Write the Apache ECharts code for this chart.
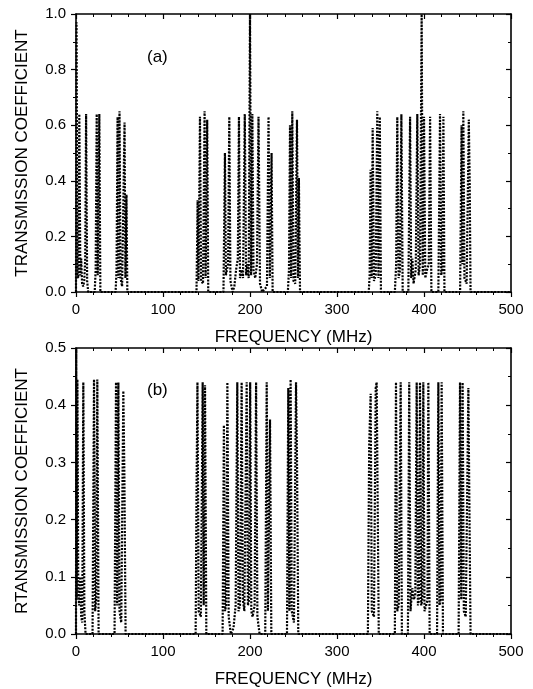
<!DOCTYPE html>
<html>
<head>
<meta charset="utf-8">
<script src="https://cdn.jsdelivr.net/npm/echarts@6/dist/echarts.min.js"></script>
<style>
html,body{margin:0;padding:0;background:#fff}
#main{width:533px;height:689px}
</style>
</head>
<body>
<div id="main"></div>
<script>
// panel (a): transmission coefficient
var freqA=[0,0.6,1.6,2.6,3.8,5,6,7,8.2,9.5,10.6,11.6,12.8,14,
	21.5,22.6,23.8,25,26.8,28,
	45.5,46.6,47.8,48.8,50,51.2,53,55.8,56.8,58,59,
	138.5,139.8,140.8,142.5,143.8,146,147.8,149,150.8,152,
	169.5,171.2,172.3,174.8,176.2,177.5,180,182,184,186,187.3,188.5,190.5,192,194,195.5,197,198.5,200,201.3,202.7,204,206,208,209.8,211.5,214,219.5,221.3,222.8,224.8,226,
	243.5,244.8,246,247.2,248.6,250,252,254,255.2,256.2,257.5,
	336.5,337.5,338.6,339.8,341,342.5,344.5,346.3,347.6,349.2,350.5,
	366.5,368,369.3,370.8,372.5,374,375.5,
	382,384,385.3,386.6,388,390.5,392.3,393.8,395.5,397.3,398.6,400,401.5,403.5,405.5,407,408.5,
	416.5,418.4,419.8,421,422.3,423.5,
	441.5,443.2,444.2,445.2,446.5,449,451.5,452.5,453.5,500];
var transA=[0,0.97,0.06,0.05,0.64,0.06,0.12,0.03,0.02,0.04,0.12,0.64,0.04,0,
	0,0.08,0.64,0.06,0.64,0,
	0,0.08,0.63,0.05,0.65,0.05,0.02,0.61,0.05,0.35,0,
	0,0.33,0.04,0.63,0.04,0.03,0.65,0.05,0.62,0,
	0,0.5,0.06,0.1,0.63,0.04,0,0.02,0.08,0.12,0.63,0.05,0.08,0.05,0.64,0.06,0.1,0.05,1.0,0.06,0.64,0.08,0.05,0.1,0.63,0.03,0,0.02,0.63,0.05,0.5,0,
	0,0.08,0.6,0.05,0.65,0.04,0.03,0.62,0.05,0.41,0,
	0,0.06,0.44,0.05,0.59,0.04,0.06,0.65,0.05,0.63,0,
	0,0.1,0.63,0.05,0.08,0.64,0,
	0,0.63,0.05,0.12,0.03,0.08,0.64,0.06,0.1,1.0,0.06,0.63,0.05,0.08,0.1,0.63,0,
	0,0.64,0.06,0.08,0.63,0,
	0,0.6,0.1,0.65,0.05,0.03,0.62,0.4,0,0];

// panel (b)
var freqB=[0,0.3,0.8,1.6,2.6,3.6,4.8,6,7.2,8.4,9.6,11,
	19,20.7,22,23.2,24.5,26,
	44.3,46,47.3,48.7,50,52,54.4,55.6,57,
	137.5,138.6,139.6,141,143.5,145.6,146.8,148.3,149.8,
	168.5,170,171.3,172.6,174,175.5,178,181,183.5,185.4,186.8,188.5,190.4,191.8,193.5,196.2,197.6,199,200.2,201.5,203,205.3,207,208.5,211,217.5,219.2,220.6,223,224.5,
	242.5,244,245.3,246.7,248,250.5,252.9,254,255.5,
	335.5,337,338.7,340,342.5,344.5,345.6,346.8,348,
	366.5,367.8,369.2,371,373.2,374.6,
	381.5,383,384.5,386.5,388.5,390,391.6,393,394.2,395.4,396.8,398,399.2,400.6,402.5,404,405,406.5,
	415,416.5,417.8,419,420.3,421.8,
	439.8,441.4,442.8,444.4,445.8,448,451,452.2,453.5,500];
var transB=[0,0.5,0.06,0.445,0.08,0.05,0.1,0.03,0.02,0.44,0.04,0,
	0,0.445,0.04,0.06,0.445,0,
	0,0.44,0.05,0.44,0.04,0.02,0.425,0.28,0,
	0,0.26,0.44,0.04,0.03,0.44,0.05,0.435,0,
	0,0.365,0.04,0.05,0.44,0.03,0,0.01,0.05,0.44,0.04,0.05,0.44,0.06,0.04,0.44,0.05,0.06,0.44,0.04,0.03,0.05,0.44,0.03,0,0,0.44,0.04,0.375,0,
	0,0.43,0.04,0.445,0.04,0.02,0.44,0.31,0,
	0,0.33,0.42,0.04,0.03,0.43,0.44,0.44,0,
	0,0.44,0.04,0.05,0.44,0,
	0,0.44,0.04,0.08,0.06,0.07,0.44,0.05,0.06,0.44,0.05,0.06,0.44,0.04,0.05,0.06,0.44,0,
	0,0.44,0.05,0.06,0.44,0,
	0,0.44,0.06,0.44,0.04,0.03,0.43,0.22,0,0];

var fnt='Liberation Sans';

function pairs(f,v){
	var out=[];
	for(var i=0;i<f.length;i++) out.push([f[i],v[i]]);
	return out;
}

function xAx(gi,pos,showLbl){
	return {
		type:'value',gridIndex:gi,position:pos,min:0,max:500,interval:100,
		name:showLbl?'FREQUENCY (MHz)':'',nameLocation:'middle',nameGap:37,
		nameTextStyle:{fontFamily:fnt,fontSize:17,color:'#000'},
		axisLine:{onZero:false,lineStyle:{color:'#000',width:1.6}},
		axisTick:{show:true,inside:pos=='top',length:5,lineStyle:{color:'#000',width:1.2}},
		minorTick:{show:true,splitNumber:5,length:3,lineStyle:{color:'#000',width:1}},
		axisLabel:{show:showLbl,margin:10,fontFamily:fnt,fontSize:15,color:'#000'},
		splitLine:{show:false}
	};
}

function yAx(gi,pos,max,iv,nm){
	var left=pos=='left';
	return {
		type:'value',gridIndex:gi,position:pos,min:0,max:max,interval:iv,
		name:left?nm:'',nameLocation:'middle',nameGap:45,
		nameTextStyle:{fontFamily:fnt,fontSize:17,color:'#000'},
		axisLine:{onZero:false,lineStyle:{color:'#000',width:1.6}},
		axisTick:{show:true,inside:!left,length:5,lineStyle:{color:'#000',width:1.2}},
		minorTick:{show:true,splitNumber:2,length:3,lineStyle:{color:'#000',width:1}},
		axisLabel:{show:left,margin:10,fontFamily:fnt,fontSize:15,color:'#000',
			formatter:function(v){return v.toFixed(1);}},
		splitLine:{show:false}
	};
}

var myChart=echarts.init(document.getElementById('main'),null,{renderer:'canvas'});
var option={
	animation:false,
	backgroundColor:'#fff',
	grid:[
		{left:76,right:22,top:14,height:278},
		{left:76,right:22,top:348,height:287}
	],
	xAxis:[xAx(0,'bottom',true),xAx(0,'top',false),xAx(1,'bottom',true),xAx(1,'top',false)],
	yAxis:[yAx(0,'left',1.0,0.2,'TRANSMISSION COEFFICIENT'),yAx(0,'right',1.0,0.2,''),
		yAx(1,'left',0.5,0.1,'RTANSMISSION COEFFICIENT'),yAx(1,'right',0.5,0.1,'')],
	graphic:[
		{type:'text',left:147,top:49,style:{text:'(a)',fontFamily:fnt,fontSize:17,fill:'#000'}},
		{type:'text',left:147,top:382,style:{text:'(b)',fontFamily:fnt,fontSize:17,fill:'#000'}}
	],
	series:[
		{type:'line',xAxisIndex:0,yAxisIndex:0,data:pairs(freqA,transA),showSymbol:false,
			lineStyle:{color:'#000',width:2.2,type:[2,1.4]}},
		{type:'line',xAxisIndex:2,yAxisIndex:2,data:pairs(freqB,transB),showSymbol:false,
			lineStyle:{color:'#000',width:2.2,type:[2,1.4]}}
	]
};
myChart.setOption(option);
</script>
</body>
</html>
